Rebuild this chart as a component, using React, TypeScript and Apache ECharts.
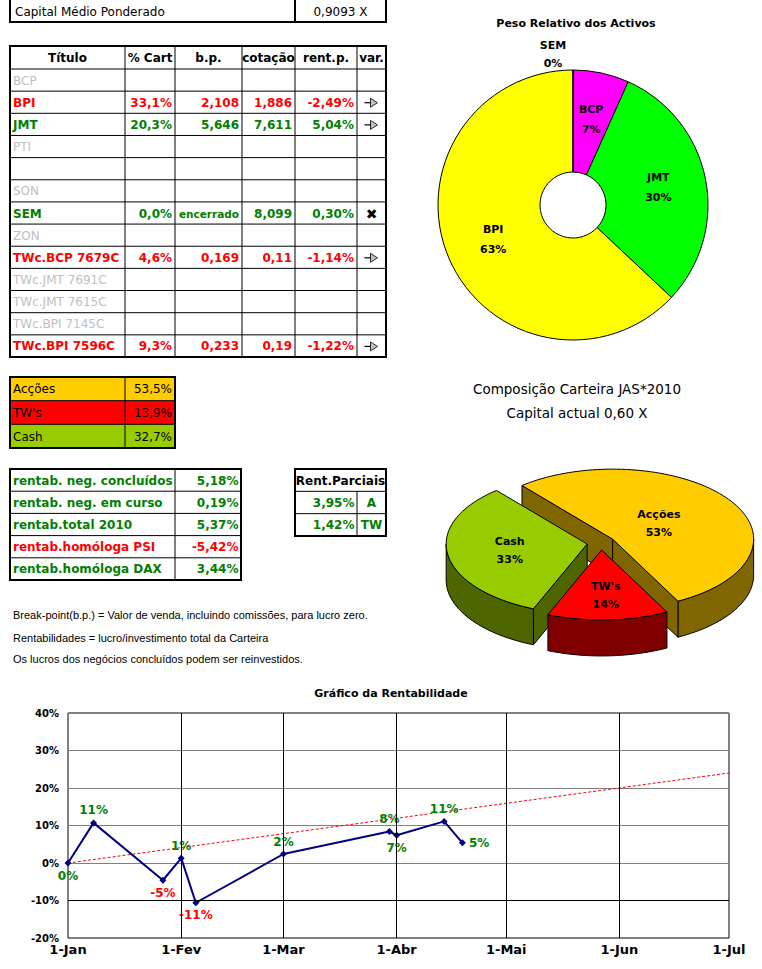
import React, { useEffect, useRef } from "react";
import * as echarts from "echarts";

// ---------------- data ----------------
const capitalMedioLabel = "Capital Médio Ponderado";
const capitalMedioText = "0,9093 X";

const headerLabels = ["Título", "% Cart", "b.p.", "cotação", "rent.p.", "var."];
const titulos = ["BCP", "BPI", "JMT", "PTI", "", "SON", "SEM", "ZON", "TWc.BCP 7679C", "TWc.JMT 7691C", "TWc.JMT 7615C", "TWc.BPI 7145C", "TWc.BPI 7596C"];
const pctCart = ["", "33,1%", "20,3%", "", "", "", "0,0%", "", "4,6%", "", "", "", "9,3%"];
const breakPoints = ["", "2,108", "5,646", "", "", "", "encerrado", "", "0,169", "", "", "", "0,233"];
const cotacoes = ["", "1,886", "7,611", "", "", "", "8,099", "", "0,11", "", "", "", "0,19"];
const rentP: (number | null)[] = [null, -2.49, 5.04, null, null, null, 0.3, null, -1.14, null, null, null, -1.22];
const variacao = ["", "seta", "seta", "", "", "", "fechado", "", "seta", "", "", "", "seta"];

const compNames = ["Acções", "TW's", "Cash"];
const compPct = [53.5, 13.9, 32.7];

const rentabLabels = ["rentab. neg. concluídos", "rentab. neg. em curso", "rentab.total 2010", "rentab.homóloga PSI", "rentab.homóloga DAX"];
const rentabValues = [5.18, 0.19, 5.37, -5.42, 3.44];

const parciaisHeader = "Rent.Parciais";
const parciaisValues = [3.95, 1.42];
const parciaisTags = ["A", "TW"];

const notas = [
  "Break-point(b.p.) = Valor de venda, incluindo comissões, para lucro zero.",
  "Rentabilidades = lucro/investimento total da Carteira",
  "Os lucros dos negócios concluídos podem ser reinvestidos.",
];

const pesoTitle = "Peso Relativo dos Activos";
const pesoNames = ["BCP", "JMT", "BPI", "SEM"];
const pesoValues = [6.7, 30.3, 63.0, 0];

const compTitle = "Composição Carteira JAS*2010";
const capitalActual = "Capital actual 0,60 X";

const rentTitle = "Gráfico da Rentabilidade";
const monthDays = [0, 31, 59, 90, 120, 151, 181];
const monthLabels = ["1-Jan", "1-Fev", "1-Mar", "1-Abr", "1-Mai", "1-Jun", "1-Jul"];
const rentDays = [0, 7, 26, 31, 35, 59, 88, 90, 103, 108];
const rentValues = [0, 10.7, -4.6, 1.3, -10.6, 2.4, 8.4, 7.4, 11.1, 5.37];
const rentLabelPos = ["bottom", "top", "bottom", "top", "bottom", "top", "top", "bottom", "top", "right"];
const trendDays = [0, 181];
const trendValues = [0, 24];
const darkGridValues = [-10];

// ---------------- styles / layout ----------------
const W = 762;
const H = 969;
const F = "'DejaVu Sans', sans-serif";
const FN = "'Liberation Sans', Arial, sans-serif";
const GREEN = "#008000";
const RED = "#ff0000";
const GRAY = "#c0c0c0";
const pesoColors = ["#ff00ff", "#00ff00", "#ffff00", "#00ffff"];
const compTopColors = ["#ffcc00", "#ff0000", "#99cc00"];
const compSideColors = ["#806600", "#800000", "#4d6600"];

const fmt = (v: number, d: number) => v.toFixed(d).replace(".", ",");

function T(text: string, x: number, y: number, o: any = {}) {
  const align = o.align ?? "left";
  return {
    type: "text",
    x,
    y,
    silent: true,
    z: 10,
    style: {
      text,
      fill: o.color ?? "#000",
      fontFamily: o.family ?? F,
      fontSize: o.size ?? 12,
      fontWeight: o.bold ? "bold" : "normal",
      lineHeight: o.lineHeight,
      align,
      textAlign: align,
      verticalAlign: "middle",
      textVerticalAlign: "middle",
    },
  };
}
function L(x1: number, y1: number, x2: number, y2: number, w = 1, c = "#000") {
  return { type: "line", silent: true, z: 5, shape: { x1, y1, x2, y2 }, style: { stroke: c, lineWidth: w } };
}
function R(x: number, y: number, w: number, h: number, fill: string, stroke = "none", lw = 0, z = 1) {
  return { type: "rect", silent: true, z, shape: { x, y, width: w, height: h }, style: { fill, stroke, lineWidth: lw } };
}

const PIE_CX = 573;
const PIE_CY = 205;
const PIE_R = 135;
const PIE_R0 = 33;

function buildGraphics() {
  const g: any[] = [];
  // top box
  g.push(R(10, -2, 376, 24, "#fff"));
  g.push(L(295, 0, 295, 22, 2));
  g.push(R(10, -2, 376, 24, "none", "#000", 2, 6));
  g.push(T(capitalMedioLabel, 15, 11.5));
  g.push(T(capitalMedioText, 340.5, 11.5, { align: "center" }));

  // main table
  const colX = [10, 125, 175, 242, 295, 357, 386];
  const top = 46, headB = 69, bot = 357;
  const rowH = (bot - headB) / titulos.length;
  colX.slice(1, -1).forEach((c) => g.push(L(c, top, c, bot, 1)));
  g.push(L(10, headB, 386, headB, 1));
  for (let i = 1; i < titulos.length; i++) g.push(L(10, headB + i * rowH, 386, headB + i * rowH, 1));
  g.push(R(10, top, 376, bot - top, "none", "#000", 2, 6));
  headerLabels.forEach((h, i) => g.push(T(h, (colX[i] + colX[i + 1]) / 2, (top + headB) / 2 + 0.5, { bold: true, align: "center" })));
  titulos.forEach((t, i) => {
    const cy = headB + (i + 0.5) * rowH + 0.5;
    const v = rentP[i];
    if (v === null) {
      if (t) g.push(T(t, 13, cy, { color: GRAY }));
      return;
    }
    const col = v < 0 ? RED : GREEN;
    g.push(T(t, 13, cy, { color: col, bold: true }));
    g.push(T(pctCart[i], colX[2] - 3, cy, { color: col, bold: true, align: "right" }));
    const bp = breakPoints[i];
    g.push(T(bp, colX[3] - 3, cy, { color: col, bold: true, align: "right", size: bp.length > 6 ? 10.5 : 12 }));
    g.push(T(cotacoes[i], colX[4] - 3, cy, { color: col, bold: true, align: "right" }));
    g.push(T(fmt(v, 2) + "%", colX[5] - 3, cy, { color: col, bold: true, align: "right" }));
    const vx = (colX[5] + colX[6]) / 2;
    if (variacao[i] === "seta") {
      g.push(L(vx - 7, cy, vx, cy, 1.2, "#000"));
      g.push({ type: "polygon", silent: true, z: 8, shape: { points: [[vx - 1, cy - 4.5], [vx + 6, cy], [vx - 1, cy + 4.5]] }, style: { fill: "#c0c0c0", stroke: "#000", lineWidth: 0.8 } });
    } else if (variacao[i] === "fechado") {
      g.push(T("✖", vx, cy, { bold: true, size: 14, align: "center" }));
    }
  });

  // composition table
  const aTop = 377, aBot = 448;
  const aH = (aBot - aTop) / compNames.length;
  compNames.forEach((n, i) => {
    const y = aTop + i * aH;
    g.push(R(10, y, 165, aH, compTopColors[i]));
    if (i > 0) g.push(L(10, y, 175, y, 1));
    g.push(T(n, 13, y + aH / 2 + 0.5));
    g.push(T(fmt(compPct[i], 1) + "%", 172, y + aH / 2 + 0.5, { align: "right" }));
  });
  g.push(L(125, aTop, 125, aBot, 1));
  g.push(R(10, aTop, 165, aBot - aTop, "none", "#000", 2, 6));

  // rentab table
  const rTop = 469, rBot = 580;
  const rH = (rBot - rTop) / rentabLabels.length;
  rentabLabels.forEach((lab, i) => {
    const y = rTop + i * rH;
    if (i > 0) g.push(L(10, y, 241, y, 1));
    const col = rentabValues[i] < 0 ? RED : GREEN;
    g.push(T(lab, 13, y + rH / 2 + 0.5, { color: col, bold: true }));
    g.push(T(fmt(rentabValues[i], 2) + "%", 238.5, y + rH / 2 + 0.5, { color: col, bold: true, align: "right" }));
  });
  g.push(L(175, rTop, 175, rBot, 1));
  g.push(R(10, rTop, 231, rBot - rTop, "none", "#000", 2, 6));

  // parciais table
  const pTop = 469, pBot = 536;
  const pH = (pBot - pTop) / 3;
  g.push(T(parciaisHeader, 340.5, pTop + pH / 2 + 0.5, { bold: true, align: "center" }));
  parciaisValues.forEach((v, i) => {
    const y = pTop + (i + 1) * pH;
    g.push(L(295, y, 386, y, 1));
    g.push(T(fmt(v, 2) + "%", 354.5, y + pH / 2 + 0.5, { color: GREEN, bold: true, align: "right" }));
    g.push(T(parciaisTags[i], 371.5, y + pH / 2 + 0.5, { color: GREEN, bold: true, align: "center" }));
  });
  g.push(L(357, pTop + pH, 357, pBot, 1));
  g.push(R(295, pTop, 91, pBot - pTop, "none", "#000", 2, 6));

  // notes
  const noteY = [615, 637.5, 658.5];
  notas.forEach((n, i) => g.push(T(n, 13, noteY[i], { family: FN, size: 11 })));

  // label of the zero-weight slice of the donut
  pesoNames.forEach((n, i) => {
    if (pesoValues[i] === 0) {
      g.push(T(`${n}\n${Math.round(pesoValues[i])}%`, PIE_CX - 20, PIE_CY - PIE_R - 16, { bold: true, size: 11, align: "center", lineHeight: 18 }));
    }
  });
  return g;
}

// 3D pie geometry
const P3_CX = 601, P3_CY = 543, P3_RX = 141, P3_RY = 70, P3_DEPTH = 36, P3_EXPLODE = 14, P3_START = 130;
const rad = (d: number) => (d * Math.PI) / 180;
const compTotal = compPct.reduce((a, b) => a + b, 0);
const compSlices = (() => {
  let cur = P3_START;
  return compPct.map((v) => {
    const span = (v / compTotal) * 360;
    const s = { start: cur, end: cur - span, mid: cur - span / 2, span };
    cur -= span;
    return s;
  });
})();
const compOrder = compSlices.map((_, i) => i).sort((a, b) => Math.sin(rad(compSlices[b].mid)) - Math.sin(rad(compSlices[a].mid)));

function renderSlice(_params: any, api: any) {
  const i = api.value(0);
  const s = compSlices[i];
  const k = P3_RY / P3_RX;
  const ox = P3_CX + P3_EXPLODE * Math.cos(rad(s.mid));
  const oy = P3_CY - P3_EXPLODE * k * Math.sin(rad(s.mid));
  const pt = (deg: number, dz = 0) => [ox + P3_RX * Math.cos(rad(deg)), oy - P3_RY * Math.sin(rad(deg)) + dz];
  const arc = (from: number, to: number, dz = 0) => {
    const n = Math.max(2, Math.ceil(Math.abs(from - to) / 2));
    const out: number[][] = [];
    for (let j = 0; j <= n; j++) out.push(pt(from + ((to - from) * j) / n, dz));
    return out;
  };
  const stroke = { stroke: "#000", lineWidth: 1, lineJoin: "round" };
  const side = compSideColors[i];
  const children: any[] = [];
  for (let m = -2; m <= 1; m++) {
    const lo = Math.max(s.end, -180 + 360 * m);
    const hi = Math.min(s.start, 360 * m);
    if (hi - lo > 0.01) {
      children.push({ type: "polygon", shape: { points: [...arc(hi, lo, 0), ...arc(lo, hi, P3_DEPTH)] }, style: { fill: side, ...stroke } });
    }
  }
  if (Math.cos(rad(s.start)) < 0) {
    children.push({ type: "polygon", shape: { points: [[ox, oy], pt(s.start), pt(s.start, P3_DEPTH), [ox, oy + P3_DEPTH]] }, style: { fill: side, ...stroke } });
  }
  if (Math.cos(rad(s.end)) > 0) {
    children.push({ type: "polygon", shape: { points: [[ox, oy], pt(s.end), pt(s.end, P3_DEPTH), [ox, oy + P3_DEPTH]] }, style: { fill: side, ...stroke } });
  }
  children.push({ type: "polygon", shape: { points: [[ox, oy], ...arc(s.start, s.end, 0)] }, style: { fill: compTopColors[i], ...stroke } });
  const half = rad(s.span / 2);
  const rc = (2 * P3_RX * Math.sin(half)) / (3 * half);
  const lx = ox + rc * Math.cos(rad(s.mid));
  const ly = oy - rc * k * Math.sin(rad(s.mid));
  children.push({
    type: "text",
    x: lx,
    y: ly,
    style: {
      text: `${compNames[i]}\n${Math.round((compPct[i] / compTotal) * 100)}%`,
      fill: "#000",
      fontFamily: F,
      fontSize: 11,
      fontWeight: "bold",
      lineHeight: 18,
      align: "center",
      textAlign: "center",
      verticalAlign: "middle",
      textVerticalAlign: "middle",
    },
  });
  return { type: "group", children };
}

function buildOption(): any {
  return {
    animation: false,
    backgroundColor: "#fff",
    textStyle: { fontFamily: F },
    title: [
      { text: pesoTitle, left: 576, top: 16, textAlign: "center", padding: 0, textStyle: { fontFamily: F, fontSize: 11, fontWeight: "bold", color: "#000", lineHeight: 14 } },
      { text: `${compTitle}\n${capitalActual}`, left: 577, top: 377, textAlign: "center", padding: 0, textStyle: { fontFamily: F, fontSize: 13.5, fontWeight: "normal", color: "#000", lineHeight: 24 } },
      { text: rentTitle, left: 391, top: 686, textAlign: "center", padding: 0, textStyle: { fontFamily: F, fontSize: 11, fontWeight: "bold", color: "#000", lineHeight: 14 } },
    ],
    grid: { left: 68, top: 713, width: 661, height: 225, show: true, borderColor: "#000", borderWidth: 1, backgroundColor: "transparent" },
    xAxis: {
      type: "value",
      min: monthDays[0],
      max: monthDays[monthDays.length - 1],
      axisLine: { show: false },
      axisTick: { show: false },
      splitLine: { show: false },
      axisLabel: {
        customValues: monthDays,
        formatter: (v: number) => monthLabels[monthDays.indexOf(v)] ?? "",
        color: "#000",
        fontWeight: "bold",
        fontSize: 13,
        fontFamily: F,
        margin: 5,
      },
    },
    yAxis: {
      type: "value",
      min: -20,
      max: 40,
      interval: 10,
      axisLine: { show: false },
      axisTick: { show: false },
      splitLine: { show: true, lineStyle: { color: "#808080", width: 1 } },
      axisLabel: { formatter: "{value}%", color: "#000", fontWeight: "bold", fontSize: 10, fontFamily: F, margin: 9 },
    },
    series: [
      {
        type: "pie",
        center: [PIE_CX, PIE_CY],
        radius: [PIE_R0, PIE_R],
        startAngle: 90,
        clockwise: true,
        silent: true,
        avoidLabelOverlap: false,
        itemStyle: { borderColor: "#000", borderWidth: 1 },
        label: {
          show: true,
          position: "inside",
          formatter: (p: any) => `${p.name}\n${Math.round(p.percent)}%`,
          color: "#000",
          fontWeight: "bold",
          fontSize: 11,
          fontFamily: F,
          lineHeight: 20,
        },
        labelLine: { show: false },
        data: pesoNames.map((n, i) => ({
          name: n,
          value: pesoValues[i],
          itemStyle: { color: pesoColors[i] },
          label: pesoValues[i] === 0 ? { show: false } : undefined,
        })),
      },
      {
        type: "custom",
        coordinateSystem: "none",
        silent: true,
        renderItem: renderSlice,
        data: compOrder.map((i) => ({ name: compNames[i], value: [i, compPct[i]] })),
      },
      {
        type: "line",
        silent: true,
        z: 2,
        symbol: "none",
        lineStyle: { color: RED, width: 1, type: [3, 2] },
        data: trendDays.map((d, i) => [d, trendValues[i]]),
        markLine: {
          silent: true,
          symbol: ["none", "none"],
          label: { show: false },
          lineStyle: { color: "#000", width: 1, type: "solid" },
          data: [
            ...monthDays.slice(1, -1).map((d) => ({ xAxis: d })),
            ...darkGridValues.map((v) => ({ yAxis: v })),
          ],
        },
      },
      {
        type: "line",
        silent: true,
        z: 3,
        symbol: "diamond",
        symbolSize: 7,
        itemStyle: { color: "#000080" },
        lineStyle: { color: "#000080", width: 2 },
        label: {
          show: true,
          formatter: (p: any) => `${Math.round(p.value[1])}%`,
          fontWeight: "bold",
          fontSize: 12,
          fontFamily: F,
          distance: 3,
        },
        data: rentDays.map((d, i) => ({
          value: [d, rentValues[i]],
          label: { position: rentLabelPos[i], color: rentValues[i] < 0 ? RED : GREEN },
        })),
      },
    ],
    graphic: { elements: buildGraphics() },
  };
}

export default function App() {
  const ref = useRef<HTMLDivElement>(null);
  useEffect(() => {
    if (!ref.current) return;
    const chart = echarts.init(ref.current, undefined, { renderer: "svg", width: W, height: H });
    chart.setOption(buildOption());
    return () => chart.dispose();
  }, []);
  return <div ref={ref} style={{ position: "absolute", left: 0, top: 0, width: W, height: H, background: "#fff" }} />;
}
